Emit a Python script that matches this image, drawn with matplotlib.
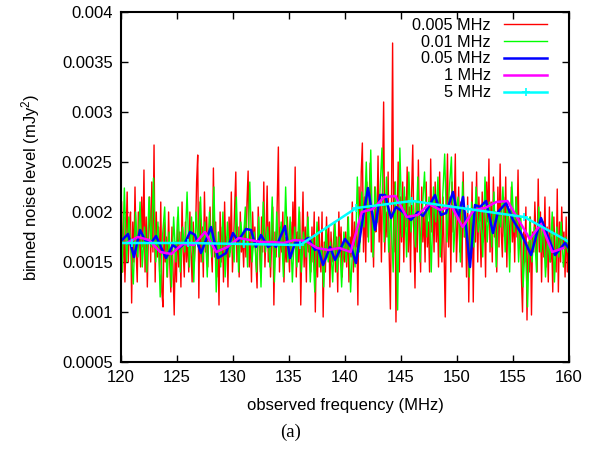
import numpy as np
import matplotlib
matplotlib.use("Agg")
import matplotlib.pyplot as plt

plt.rcParams['font.family'] = ['Liberation Sans', 'DejaVu Sans']
plt.rcParams['mathtext.default'] = 'regular'

# noise levels, in units of 1e-5 mJy^2
# 0.005 MHz binning: 10 values per MHz from 120 to 160
noise_005 = [
    210, 140, 195, 130, 175, 220, 150, 185, 200, 109,
    190, 150, 225, 160, 130, 200, 175, 145, 215, 165,
    242, 140, 195, 125, 180, 215, 150, 230, 160, 267,
    130, 200, 155, 185, 140, 210, 120, 105, 190, 150,
    175, 135, 200, 150, 120, 185, 140, 97, 170, 130,
    195, 145, 180, 125, 210, 160, 135, 190, 150, 175,
    140, 200, 160, 130, 190, 150, 175, 230, 257, 114,
    210, 150, 185, 135, 220, 160, 195, 145, 180, 205,
    165, 140, 244, 155, 190, 135, 170, 107, 200, 150,
    185, 130, 210, 155, 175, 125, 195, 160, 220, 140,
    170, 205, 240, 150, 185, 135, 200, 160, 175, 145,
    190, 155, 210, 241, 145, 180, 130, 200, 165, 185,
    150, 124, 205, 170, 140, 195, 160, 230, 145, 180,
    226, 150, 190, 135, 170, 205, 107, 180, 155, 210,
    265, 140, 185, 160, 200, 130, 175, 150, 195, 165,
    140, 190, 155, 210, 165, 245, 135, 180, 150, 200,
    107, 170, 220, 145, 185, 130, 200, 160, 175, 140,
    185, 150, 200, 100, 175, 135, 195, 160, 140, 200,
    95, 170, 140, 195, 155, 185, 125, 180, 150, 165,
    190, 140, 175, 120, 200, 155, 185, 135, 170, 150,
    180, 145, 195, 130, 175, 155, 210, 140, 190, 165,
    185, 107, 225, 170, 240, 269, 160, 215, 150, 230,
    175, 210, 249, 160, 200, 145, 225, 180, 190, 256,
    170, 215, 150, 230, 310, 160, 200, 175, 240, 155,
    103, 210, 369, 160, 230, 90, 185, 250, 140, 215,
    170, 230, 150, 215, 185, 245, 160, 205, 140, 220,
    267, 175, 124, 210, 160, 252, 185, 140, 225, 170,
    200, 150, 230, 165, 190, 140, 253, 180, 215, 160,
    230, 170, 205, 145, 240, 180, 150, 215, 160, 95,
    200, 258, 165, 215, 140, 230, 180, 205, 258, 150,
    185, 225, 160, 210, 145, 240, 175, 200, 135, 215,
    110, 195, 160, 230, 110, 205, 170, 240, 150, 215,
    185, 145, 220, 170, 205, 135, 230, 190, 253, 160,
    210, 150, 235, 175, 200, 140, 225, 165, 248, 180,
    155, 215, 175, 235, 145, 205, 190, 160, 225, 170,
    200, 150, 215, 175, 242, 165, 195, 135, 100, 180,
    150, 205, 92, 170, 140, 195, 97, 180, 160, 210,
    175, 140, 233, 160, 200, 130, 190, 155, 215, 145,
    185, 130, 205, 150, 175, 120, 195, 160, 140, 223,
    120, 190, 150, 205, 165, 180, 135, 195, 140, 170,
]

# 0.01 MHz binning: 5 values per MHz
noise_01 = [
    140, 224, 150, 195, 160,
    128, 200, 155, 210, 145,
    185, 140, 215, 165, 234,
    150, 190, 115, 175, 205,
    135, 180, 125, 195, 150,
    205, 140, 185, 160, 220,
    145, 195, 130, 200, 165,
    215, 150, 190, 135, 200,
    155, 225, 120, 180, 145,
    200, 135, 190, 155, 175,
    150, 215, 140, 190, 165,
    205, 145, 230, 150, 180,
    140, 195, 125, 210, 160,
    185, 145, 215, 130, 200,
    155, 190, 135, 225, 150,
    195, 130, 185, 145, 205,
    140, 180, 155, 195, 130,
    175, 120, 190, 145, 165,
    125, 185, 150, 170, 130,
    190, 140, 175, 125, 180,
    150, 195, 120, 170, 145,
    235, 160, 220, 185, 250,
    170, 262, 155, 225, 190,
    215, 264, 170, 235, 160,
    200, 140, 230, 102, 264,
    175, 225, 155, 240, 180,
    210, 165, 235, 150, 200,
    240, 175, 215, 140, 225,
    190, 235, 155, 210, 258,
    170, 220, 255, 160, 200,
    215, 150, 230, 175, 195,
    135, 210, 165, 225, 180,
    200, 155, 235, 170, 210,
    165, 220, 145, 200, 185,
    225, 160, 210, 140, 230,
    180, 215, 150, 195, 125,
    170, 105, 195, 150, 185,
    140, 205, 160, 190, 135,
    175, 150, 200, 130, 185,
    155, 190, 145, 175, 160,
]

# 0.05 MHz binning (frequency, level)
freq_05 = [120.09, 120.63, 121.16, 121.70, 122.14, 122.68, 123.13, 123.48, 124.02,
           124.64, 125.09, 125.71, 126.16, 126.61, 127.14, 128.04, 128.66, 129.38,
           130.00, 130.45, 131.16, 131.61, 132.05, 132.50, 133.13, 133.57, 133.84,
           134.64, 135.09, 135.54, 136.25, 136.70, 137.32, 137.59, 138.04, 138.66,
           139.11, 139.55, 140.00, 140.54, 140.98, 141.61, 142.05, 142.68, 143.13,
           143.57, 144.11, 144.55, 145.18, 145.89, 146.52, 146.96, 147.41, 148.04,
           148.57, 149.02, 149.64, 150.09, 150.54, 151.16, 151.61, 152.05, 152.59,
           153.21, 153.66, 154.38, 155.00, 155.71, 156.61, 157.50, 158.75, 159.64,
           159.90]
noise_05 = [172, 178, 155, 182, 172, 169, 176, 167, 154,
            167, 163, 169, 180, 177, 159, 185, 154, 159,
            179, 171, 183, 182, 165, 177, 165, 169, 165,
            186, 154, 169, 170, 174, 162, 164, 147, 165,
            152, 162, 173, 165, 149, 195, 224, 182, 217,
            217, 194, 205, 200, 192, 200, 196, 204, 217,
            197, 199, 220, 194, 215, 145, 207, 205, 211,
            179, 200, 209, 192, 179, 157, 194, 157, 169,
            165]

# 1 MHz binning: one value per MHz
noise_1 = [169, 175, 172, 160, 158, 168, 167, 180, 160, 165,
           174, 172, 170, 170, 169, 172, 171, 164, 162, 164,
           160, 200, 203, 215, 216, 195, 197, 208, 202, 206,
           185, 202, 204, 210, 211, 192, 173, 188, 160, 164]

# 5 MHz binning
freq_5 = [116, 121, 126, 131, 136, 141, 146, 151, 156, 161]
noise_5 = [169, 169, 169, 168, 167, 204, 211, 203, 195, 164]

legend_labels = ['0.005 MHz', '0.01 MHz', '0.05 MHz', '1 MHz', '5 MHz']


def bin_centres(values, step):
    return 120 + (np.arange(len(values)) + 0.5) * step


def plotNoise():
    fig = plt.figure(figsize=(6.05, 4.55), dpi=100)
    ax = fig.add_axes([0.2, 0.2044, 0.7405, 0.7692])
    scale = 1e-5

    ax.plot(bin_centres(noise_005, 0.1), np.array(noise_005) * scale,
            color='#ff0000', lw=1.0, label=legend_labels[0])
    ax.plot(bin_centres(noise_01, 0.2), np.array(noise_01) * scale,
            color='#00ff00', lw=1.0, label=legend_labels[1])
    ax.plot(freq_05, np.array(noise_05) * scale,
            color='#0000ff', lw=1.8, label=legend_labels[2])
    ax.plot(bin_centres(noise_1, 1.0), np.array(noise_1) * scale,
            color='#ff00ff', lw=1.8, label=legend_labels[3])
    ax.plot(freq_5, np.array(noise_5) * scale,
            color='#00ffff', lw=1.8, marker='+', ms=6, mew=1.2,
            label=legend_labels[4])

    ax.set_xlim(120, 160)
    ax.set_ylim(0.0005, 0.004)
    ax.set_xticks(np.arange(120, 161, 5))
    ax.set_yticks(np.arange(0.0005, 0.00401, 0.0005))
    ax.set_yticklabels(['0.0005', '0.001', '0.0015', '0.002', '0.0025',
                        '0.003', '0.0035', '0.004'])
    ax.tick_params(direction='in', top=True, right=True, length=5,
                   width=1, labelsize=12, pad=6)
    for s in ax.spines.values():
        s.set_linewidth(1.5)

    ax.set_xlabel('observed frequency (MHz)', fontsize=12, labelpad=9)
    ax.set_ylabel('binned noise level (mJy$^2$)', fontsize=12, labelpad=14)

    # gnuplot-style key: labels right-aligned, samples on the right
    ax.legend(loc='upper right', bbox_to_anchor=(0.972, 1.012),
              frameon=False, markerfirst=False, fontsize=11.7,
              handlelength=2.6, handletextpad=0.85, labelspacing=0.12,
              borderaxespad=0.2)

    fig.text(0.48, 0.04, '(a)', family='Liberation Serif', fontsize=13.5,
             ha='center')

    fig.savefig('out.png', dpi=100)


plotNoise()
